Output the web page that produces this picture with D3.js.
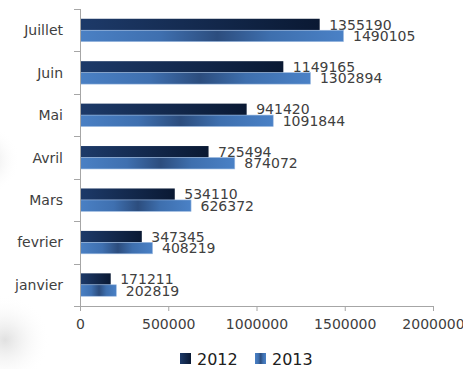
<!DOCTYPE html>
<html><head><meta charset="utf-8">
<script src="https://cdn.jsdelivr.net/npm/d3@7/dist/d3.min.js"></script>
<style>body{margin:0;background:#fff}svg{display:block}</style>
</head><body>
<script>
const categories = ["Juillet","Juin","Mai","Avril","Mars","fevrier","janvier"];
const values2012 = [1355190,1149165,941420,725494,534110,347345,171211];
const values2013 = [1490105,1302894,1091844,874072,626372,408219,202819];
const seriesNames = ["2012","2013"];
const xTicks = [0,500000,1000000,1500000,2000000];

const W = 463, H = 369;
const svg = d3.select("body").append("svg").attr("width", W).attr("height", H);
const defs = svg.append("defs");

// faint shadow blobs at left
const blob = defs.append("radialGradient").attr("id","blob");
blob.append("stop").attr("offset","0%").attr("stop-color","#d9d9d9").attr("stop-opacity",0.8);
blob.append("stop").attr("offset","100%").attr("stop-color","#ffffff").attr("stop-opacity",0);
svg.append("circle").attr("cx",5).attr("cy",340).attr("r",45).attr("fill","url(#blob)");
svg.append("circle").attr("cx",-15).attr("cy",160).attr("r",35).attr("fill","url(#blob)");

const g1 = defs.append("linearGradient").attr("id","g2012").attr("x1","0").attr("x2","1").attr("y1","0").attr("y2","0");
g1.append("stop").attr("offset","0%").attr("stop-color","#1d3a69");
g1.append("stop").attr("offset","100%").attr("stop-color","#0a1933");

const g2 = defs.append("linearGradient").attr("id","g2013").attr("x1","0").attr("x2","1").attr("y1","0").attr("y2","0");
g2.append("stop").attr("offset","0%").attr("stop-color","#4a80c4");
g2.append("stop").attr("offset","30%").attr("stop-color","#3f70b0");
g2.append("stop").attr("offset","52%").attr("stop-color","#2c4d7e");
g2.append("stop").attr("offset","72%").attr("stop-color","#3e6fae");
g2.append("stop").attr("offset","100%").attr("stop-color","#4a81c6");

const x = d3.scaleLinear().domain([0,2000000]).range([80,433]);
const y = d3.scaleBand().domain(categories).range([9,306]).paddingInner(0.46).paddingOuter(0.23);
const sub = d3.scaleBand().domain(seriesNames).range([0,y.bandwidth()]);

const font = "DejaVu Sans, sans-serif";
const txtCol = "#404040";
const axisCol = "#a6a6a6";

// bars
const data = categories.map((c,i)=>({c, v:[values2012[i], values2013[i]]}));
const grp = svg.selectAll("g.cat").data(data).join("g").attr("class","cat")
  .attr("transform", d=>`translate(0,${y(d.c)})`);
seriesNames.forEach((s,si)=>{
  grp.append("rect")
    .attr("x", x(0)+0.5)
    .attr("y", sub(s))
    .attr("width", d=>x(d.v[si])-x(0))
    .attr("height", sub.bandwidth())
    .attr("fill", si===0 ? "url(#g2012)" : "url(#g2013)")
    .attr("stroke", si===0 ? "none" : "#9dbbe2")
    .attr("stroke-width", 0.6);
  grp.append("text")
    .attr("x", d=>x(d.v[si])+10)
    .attr("y", sub(s)+sub.bandwidth()/2)
    .attr("dy","0.36em")
    .attr("font-family", font).attr("font-size", 14).attr("fill", txtCol)
    .text(d=>d.v[si]);
});

// y axis
svg.append("line").attr("x1",80.5).attr("x2",80.5).attr("y1",9).attr("y2",306).attr("stroke",axisCol);
const bounds = categories.map(c=>y(c)-y.step()*y.paddingInner()/2).concat([306]);
svg.selectAll("line.yt").data(bounds).join("line").attr("class","yt")
  .attr("x1",74).attr("x2",80.5).attr("y1",d=>Math.round(d)+0.5).attr("y2",d=>Math.round(d)+0.5).attr("stroke",axisCol);
svg.selectAll("text.cl").data(categories).join("text").attr("class","cl")
  .attr("x",63).attr("y",d=>y(d)+y.bandwidth()/2).attr("dy","0.36em")
  .attr("text-anchor","end").attr("font-family",font).attr("font-size",14).attr("fill",txtCol)
  .text(d=>d);

// x axis
const xa = svg.append("g").attr("transform","translate(0,306)")
  .call(d3.axisBottom(x).tickValues(xTicks).tickSize(5).tickPadding(8).tickFormat(d3.format("d")));
xa.select(".domain").attr("stroke",axisCol).attr("d","M80.5,0.5H433.5");
xa.selectAll(".tick line").attr("stroke",axisCol);
xa.selectAll(".tick text").attr("font-family",font).attr("font-size",14).attr("fill",txtCol);

// legend
const leg = [{n:"2012", x:180, f:"url(#g2012)"},{n:"2013", x:255, f:"url(#g2013)"}];
leg.forEach(l=>{
  svg.append("rect").attr("x",l.x).attr("y",353).attr("width",11).attr("height",11).attr("fill",l.f);
  svg.append("text").attr("x",l.x+17).attr("y",359).attr("dy","0.36em")
    .attr("font-family",font).attr("font-size",16).attr("fill","#202020").text(l.n);
});
</script>
</body></html>
